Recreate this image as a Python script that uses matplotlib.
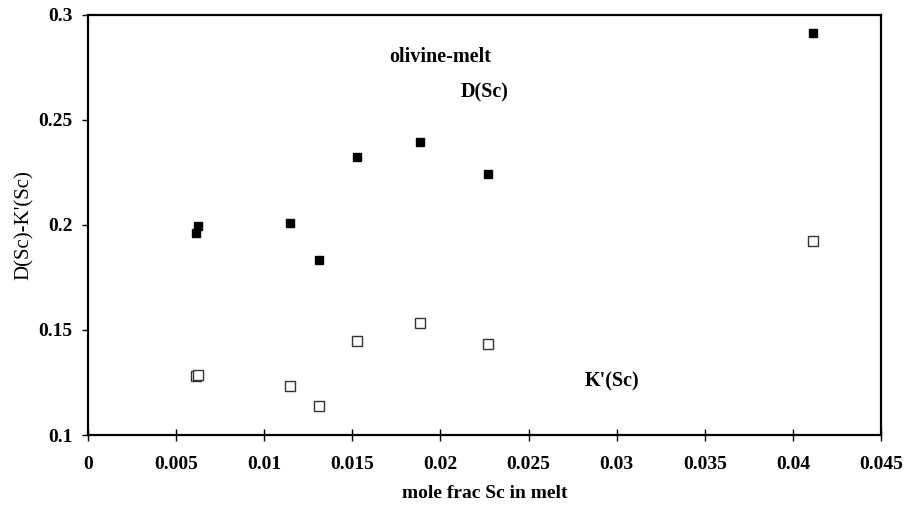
import matplotlib
matplotlib.use("Agg")
import matplotlib.pyplot as plt

plt.rcParams['font.family'] = ['Liberation Serif', 'DejaVu Serif']

# Data
x_vals = [0.00613, 0.00626, 0.01148, 0.01311, 0.01525, 0.01884, 0.02272, 0.04113]
d_sc = [0.1963, 0.1995, 0.2010, 0.1835, 0.2322, 0.2397, 0.2243, 0.2913]
k_sc = [0.1280, 0.1284, 0.1233, 0.1140, 0.1449, 0.1535, 0.1432, 0.1925]

x_ticks = [0, 0.005, 0.01, 0.015, 0.02, 0.025, 0.03, 0.035, 0.04, 0.045]
x_tick_labels = ['0', '0.005', '0.01', '0.015', '0.02', '0.025', '0.03', '0.035', '0.04', '0.045']
y_ticks = [0.1, 0.15, 0.2, 0.25, 0.3]
y_tick_labels = ['0.1', '0.15', '0.2', '0.25', '0.3']

fig = plt.figure(figsize=(9.06, 5.08), dpi=100)
ax = fig.add_axes([0.0971, 0.1437, 0.8753, 0.8268])

ax.plot(x_vals, d_sc, linestyle='none', marker='s', markersize=6,
        markerfacecolor='black', markeredgecolor='black')
ax.plot(x_vals, k_sc, linestyle='none', marker='s', markersize=6.5,
        markerfacecolor='white', markeredgecolor='#333333', markeredgewidth=1.0)

ax.set_xlim(0, 0.045)
ax.set_ylim(0.1, 0.3)
ax.set_xticks(x_ticks)
ax.set_xticklabels(x_tick_labels, fontsize=14, fontweight='bold')
ax.set_yticks(y_ticks)
ax.set_yticklabels(y_tick_labels, fontsize=14, fontweight='bold')
ax.tick_params(axis='x', direction='inout', length=8, width=1, pad=11)
ax.tick_params(axis='y', direction='out', length=4, width=1, pad=7)

for s in ax.spines.values():
    s.set_linewidth(1.6)

ax.set_xlabel('mole frac Sc in melt', fontsize=14, fontweight='bold', labelpad=9)
ax.set_ylabel("D(Sc)-K'(Sc)", fontsize=15, fontweight='normal', labelpad=3.5)

ax.text(0.0200, 0.2800, 'olivine-melt', fontsize=14.5, fontweight='bold',
        ha='center', va='center')
ax.text(0.02253, 0.2633, 'D(Sc)', fontsize=14.5, fontweight='bold',
        ha='center', va='center')
ax.text(0.02974, 0.1257, "K'(Sc)", fontsize=14.5, fontweight='bold',
        ha='center', va='center')

fig.savefig('out.png', dpi=100)
